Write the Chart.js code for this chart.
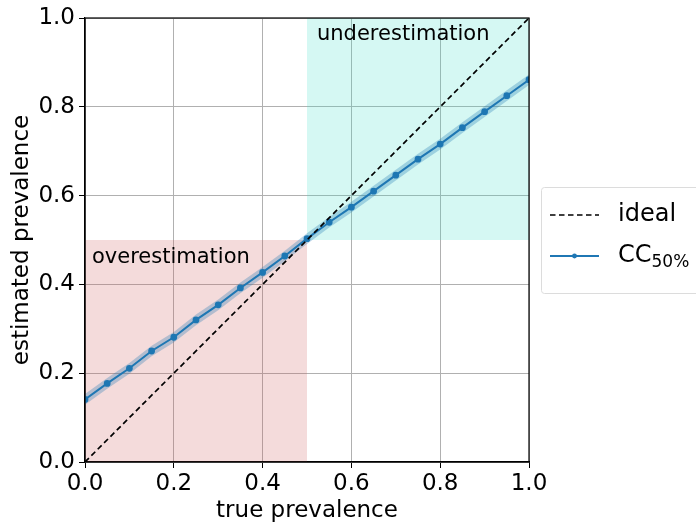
<!DOCTYPE html>
<html lang="en">
<head>
  <meta charset="UTF-8" />
  <title>Prevalence estimation</title>
  <script src="https://cdn.jsdelivr.net/npm/chart.js"></script>
  <style>
    body { margin: 0; background: #fff; }
    canvas { display: block; }
  </style>
</head>
<body>
  <canvas id="prevChart" width="696" height="522"></canvas>

  <script>
    // true prevalence grid
    const truePrev = [0.00, 0.05, 0.10, 0.15, 0.20, 0.25, 0.30, 0.35, 0.40, 0.45, 0.50,
                      0.55, 0.60, 0.65, 0.70, 0.75, 0.80, 0.85, 0.90, 0.95, 1.00];
    // CC 50% estimates and the shaded spread around them
    const ccEst  = [0.141, 0.177, 0.211, 0.250, 0.281, 0.320, 0.354, 0.392, 0.427, 0.464, 0.503,
                    0.540, 0.574, 0.610, 0.646, 0.682, 0.716, 0.753, 0.789, 0.825, 0.861];
    const ccLow  = [0.129, 0.165, 0.199, 0.238, 0.269, 0.308, 0.342, 0.380, 0.415, 0.452, 0.491,
                    0.528, 0.562, 0.598, 0.634, 0.670, 0.704, 0.741, 0.777, 0.813, 0.849];
    const ccHigh = [0.153, 0.189, 0.223, 0.262, 0.293, 0.332, 0.366, 0.404, 0.439, 0.476, 0.515,
                    0.552, 0.586, 0.622, 0.658, 0.694, 0.728, 0.765, 0.801, 0.837, 0.873];
    const idealX = [0, 1];
    const idealY = [0, 1];
    const tickVals = [0.0, 0.2, 0.4, 0.6, 0.8, 1.0];

    // shaded regions: [xMin, xMax, yMin, yMax, label]
    const overRegion  = [0.0, 0.5, 0.0, 0.5, 'overestimation'];
    const underRegion = [0.5, 1.0, 0.5, 1.0, 'underestimation'];

    const FONT = "'DejaVu Sans', sans-serif";
    const blue = '#1f77b4';

    const pts = (xs, ys) => xs.map((x, i) => ({ x: x, y: ys[i] }));

    const regionsPlugin = {
      id: 'regions',
      beforeDatasetsDraw(chart) {
        const { ctx, scales: { x, y } } = chart;
        const fills = [[overRegion, 'rgba(205,92,92,0.22)'], [underRegion, 'rgba(64,224,200,0.22)']];
        ctx.save();
        fills.forEach(([r, c]) => {
          const x0 = x.getPixelForValue(r[0]), x1 = x.getPixelForValue(r[1]);
          const y0 = y.getPixelForValue(r[3]), y1 = y.getPixelForValue(r[2]);
          ctx.fillStyle = c;
          ctx.fillRect(x0, y0, x1 - x0, y1 - y0);
        });
        ctx.restore();
      },
      afterDraw(chart) {
        const { ctx, chartArea: a, scales: { x, y } } = chart;
        ctx.save();
        // frame
        ctx.strokeStyle = '#000';
        ctx.lineWidth = 1.2;
        ctx.strokeRect(a.left, a.top, a.right - a.left, a.bottom - a.top);

        // region labels
        ctx.fillStyle = '#000';
        ctx.font = '21px ' + FONT;
        ctx.textBaseline = 'alphabetic';
        ctx.textAlign = 'left';
        ctx.fillText(underRegion[4], x.getPixelForValue(underRegion[0]) + 10, a.top + 22);
        ctx.fillText(overRegion[4], x.getPixelForValue(overRegion[0]) + 7, y.getPixelForValue(overRegion[3]) + 23);

        // legend
        const lx = 541, ly = 187, lw = 170, lh = 106;
        ctx.fillStyle = 'rgba(255,255,255,0.8)';
        ctx.strokeStyle = '#dcdcdc';
        ctx.lineWidth = 1;
        ctx.beginPath();
        ctx.roundRect(lx + 0.5, ly + 0.5, lw, lh, 3);
        ctx.fill();
        ctx.stroke();

        const ds = chart.data.datasets;
        // ideal entry
        ctx.strokeStyle = ds[0].borderColor;
        ctx.lineWidth = ds[0].borderWidth;
        ctx.setLineDash(ds[0].borderDash);
        ctx.beginPath();
        ctx.moveTo(550, 215); ctx.lineTo(599, 215);
        ctx.stroke();
        ctx.setLineDash([]);
        ctx.fillStyle = '#000';
        ctx.font = '24px ' + FONT;
        ctx.textBaseline = 'middle';
        ctx.fillText(ds[0].label, 618, 215);

        // CC entry
        ctx.strokeStyle = ds[3].borderColor;
        ctx.lineWidth = ds[3].borderWidth;
        ctx.beginPath();
        ctx.moveTo(550, 256); ctx.lineTo(599, 256);
        ctx.stroke();
        ctx.fillStyle = blue;
        ctx.beginPath();
        ctx.arc(574.5, 256, 2.4, 0, Math.PI * 2);
        ctx.fill();
        ctx.fillStyle = '#000';
        ctx.font = '24px ' + FONT;
        ctx.fillText('CC', 618, 256);
        const w = ctx.measureText('CC').width;
        ctx.font = '17px ' + FONT;
        ctx.fillText('50%', 618 + w, 263);
        ctx.restore();
      }
    };

    const axisBase = {
      type: 'linear',
      min: 0,
      max: 1,
      afterBuildTicks: (s) => { s.ticks = tickVals.map(v => ({ value: v })); },
      grid: { color: '#b0b0b0', lineWidth: 1, tickColor: '#000', tickLength: 6, drawTicks: true },
      border: { color: '#000', width: 1.2 },
      ticks: {
        color: '#000',
        font: { family: FONT, size: 23 },
        callback: (v) => v.toFixed(1)
      }
    };

    new Chart(document.getElementById('prevChart'), {
      type: 'line',
      data: {
        datasets: [
          {
            label: 'ideal',
            data: pts(idealX, idealY),
            borderColor: '#000',
            borderWidth: 1.7,
            borderDash: [5.5, 3.5],
            pointRadius: 0,
            fill: false
          },
          {
            label: 'low',
            data: pts(truePrev, ccLow),
            borderWidth: 0,
            pointRadius: 0,
            fill: false
          },
          {
            label: 'high',
            data: pts(truePrev, ccHigh),
            borderWidth: 0,
            pointRadius: 0,
            backgroundColor: 'rgba(31,119,180,0.3)',
            fill: '-1'
          },
          {
            label: 'CC50%',
            data: pts(truePrev, ccEst),
            borderColor: blue,
            backgroundColor: blue,
            borderWidth: 2,
            pointRadius: 2.4,
            pointHoverRadius: 2.4,
            fill: false
          }
        ]
      },
      options: {
        responsive: false,
        animation: false,
        events: [],
        layout: { padding: { top: 18, right: 167, left: 0, bottom: 0 } },
        plugins: {
          legend: { display: false },
          tooltip: { enabled: false }
        },
        scales: {
          x: Object.assign({}, axisBase, {
            position: 'bottom',
            afterFit: (s) => { s.height = 60; },
            ticks: Object.assign({}, axisBase.ticks, { padding: 2, maxRotation: 0 }),
            title: { display: true, text: 'true prevalence', color: '#000',
                     font: { family: FONT, size: 23 }, padding: { top: -3, bottom: -3 } }
          }),
          y: Object.assign({}, axisBase, {
            position: 'left',
            afterFit: (s) => { s.width = 85; },
            ticks: Object.assign({}, axisBase.ticks, { padding: 4 }),
            title: { display: true, text: 'estimated prevalence', color: '#000',
                     font: { family: FONT, size: 23 }, padding: { top: 8, bottom: 0 } }
          })
        }
      },
      plugins: [regionsPlugin]
    });
  </script>
</body>
</html>
